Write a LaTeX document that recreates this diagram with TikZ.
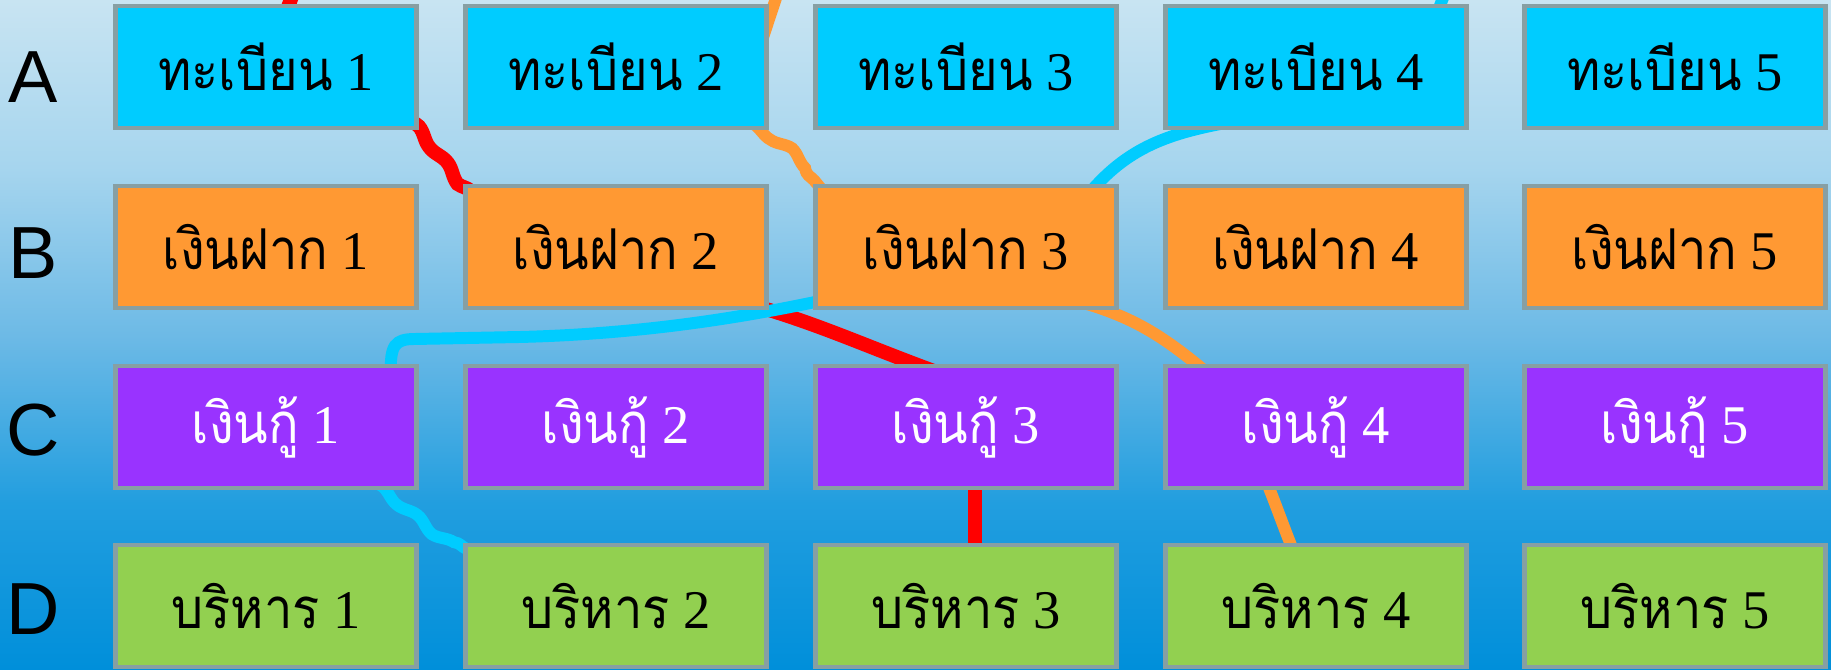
\documentclass[tikz,border=0pt]{standalone}
\usepackage{fontspec}
\setmainfont{Liberation Serif}
\newfontfamily\thaifont[Script=Thai,FakeStretch=0.9]{Loma}
\newfontfamily\rowfont{Liberation Sans}
\usetikzlibrary{calc,decorations.pathmorphing}
\definecolor{skytop}{HTML}{C8E4F2}
\definecolor{skyhigh}{HTML}{A6D5EE}
\definecolor{skymid}{HTML}{6DBAE6}
\definecolor{skylow}{HTML}{229EDF}
\definecolor{skybot}{HTML}{008FDA}
\definecolor{regblue}{HTML}{00CCFF}
\definecolor{savorange}{HTML}{FF9933}
\definecolor{loanpurple}{HTML}{9933FF}
\definecolor{admgreen}{HTML}{92D050}
\definecolor{cardedge}{HTML}{879FA3}
\pgfdeclareverticalshading{skyfade}{100bp}{color(0bp)=(skybot); color(25bp)=(skybot);
  color(37.5bp)=(skylow); color(50bp)=(skymid); color(62.5bp)=(skyhigh);
  color(75bp)=(skytop); color(100bp)=(skytop)}
\pgfdeclarelayer{backdrop}
\pgfdeclarelayer{links}
\pgfsetlayers{backdrop,links,main}
\newcommand{\thaitxt}[2]{{\thaifont\fontsize{16}{18}\selectfont #1} #2}

\tikzset{
  card/.style={draw=cardedge,line width=1.3pt,minimum width=3.01cm,
    minimum height=1.22cm,inner sep=0pt,font=\fontsize{15.5}{18}\selectfont},
  regcard/.style={card,fill=regblue},
  savcard/.style={card,fill=savorange},
  loancard/.style={card,fill=loanpurple,text=white},
  admcard/.style={card,fill=admgreen},
  rowname/.style={inner sep=0pt,font=\rowfont\fontsize{21}{24}\selectfont},
  link/.style={line width=3.4pt,line cap=round},
  redlink/.style={link,draw=red,line width=4pt},
  orangelink/.style={link,draw=savorange},
  cyanlink/.style={link,draw=regblue},
  wobble/.style={decorate,decoration={snake,amplitude=0.8pt,segment length=13pt}}
}

\begin{document}
\begin{tikzpicture}[x=0.01cm,y=0.01cm]
  \useasboundingbox (0,0) rectangle (1831,670);
  \begin{pgfonlayer}{backdrop}
    \shade[shading=skyfade] (0,0) rectangle (1831,670);
  \end{pgfonlayer}

  % row names
  \node[rowname] (rowA) at (33,593) {A};
  \node[rowname] (rowB) at (33,417) {B};
  \node[rowname] (rowC) at (33,240) {C};
  \node[rowname] (rowD) at (33,61)  {D};

  % row A
  \node[regcard] (A1) at (266,603)  {\thaitxt{ทะเบียน}{1}};
  \node[regcard] (A2) at (616,603)  {\thaitxt{ทะเบียน}{2}};
  \node[regcard] (A3) at (966,603)  {\thaitxt{ทะเบียน}{3}};
  \node[regcard] (A4) at (1316,603) {\thaitxt{ทะเบียน}{4}};
  \node[regcard] (A5) at (1675,603) {\thaitxt{ทะเบียน}{5}};
  % row B
  \node[savcard] (B1) at (266,423)  {\thaitxt{เงินฝาก}{1}};
  \node[savcard] (B2) at (616,423)  {\thaitxt{เงินฝาก}{2}};
  \node[savcard] (B3) at (966,423)  {\thaitxt{เงินฝาก}{3}};
  \node[savcard] (B4) at (1316,423) {\thaitxt{เงินฝาก}{4}};
  \node[savcard] (B5) at (1675,423) {\thaitxt{เงินฝาก}{5}};
  % row C
  \node[loancard] (C1) at (266,243)  {\thaitxt{เงินกู้}{1}};
  \node[loancard] (C2) at (616,243)  {\thaitxt{เงินกู้}{2}};
  \node[loancard] (C3) at (966,243)  {\thaitxt{เงินกู้}{3}};
  \node[loancard] (C4) at (1316,243) {\thaitxt{เงินกู้}{4}};
  \node[loancard] (C5) at (1675,243) {\thaitxt{เงินกู้}{5}};
  % row D
  \node[admcard] (D1) at (266,64)  {\thaitxt{บริหาร}{1}};
  \node[admcard] (D2) at (616,64)  {\thaitxt{บริหาร}{2}};
  \node[admcard] (D3) at (966,64)  {\thaitxt{บริหาร}{3}};
  \node[admcard] (D4) at (1316,64) {\thaitxt{บริหาร}{4}};
  \node[admcard] (D5) at (1675,64) {\thaitxt{บริหาร}{5}};

  \coordinate (redtop) at (298,690);
  \coordinate (orangetop) at (782,690);
  \coordinate (cyantop) at (1450,690);

  \begin{pgfonlayer}{links}
    % red thread
    \draw[redlink] (redtop) -- (A1.center);
    \draw[redlink,wobble] ($(A1.south east)+(-12,12)$)
      to[out=-45,in=150] ($(B2.north west)+(14,-10)$);
    \draw[redlink] ($(B2.south east)+(-40,12)$)
      to[out=-15,in=160] ($(C3.north)+(-25,-10)$);
    \draw[redlink] ($(C3.south)+(9,10)$) -- ($(D3.north)+(9,-10)$);
    % orange thread
    \draw[orangelink] (orangetop) -- ($(A2.south east)+(-30,20)$);
    \draw[orangelink,wobble] ($(A2.south east)+(-30,10)$)
      to[out=-25,in=130] ($(B3.north west)+(12,-10)$);
    \draw[orangelink] ($(B3.south)+(108,10)$)
      to[out=-15,in=140] ($(C4.north west)+(45,-10)$);
    \draw[orangelink] ($(C4.south)+(-50,10)$)
      to[out=-68,in=112] ($(D4.north)+(-22,-10)$);
    % cyan thread
    \draw[cyanlink] (cyantop) -- ($(A4.center)+(100,0)$);
    \draw[cyanlink] ($(A4.south)+(-76,10)$)
      to[out=190,in=50] ($(B3.north east)+(-30,-10)$);
    \draw[cyanlink] ($(B3.south west)+(10,10)$)
      .. controls (740,352) and (640,336) .. (520,333) -- (415,331)
      .. controls (395,331) and (390,325) .. ($(C1.north east)+(-28,-10)$);
    \draw[cyanlink,wobble] ($(C1.south east)+(-50,10)$)
      to[out=-35,in=165] ($(D2.north west)+(12,-8)$);
  \end{pgfonlayer}
\end{tikzpicture}
\end{document}
